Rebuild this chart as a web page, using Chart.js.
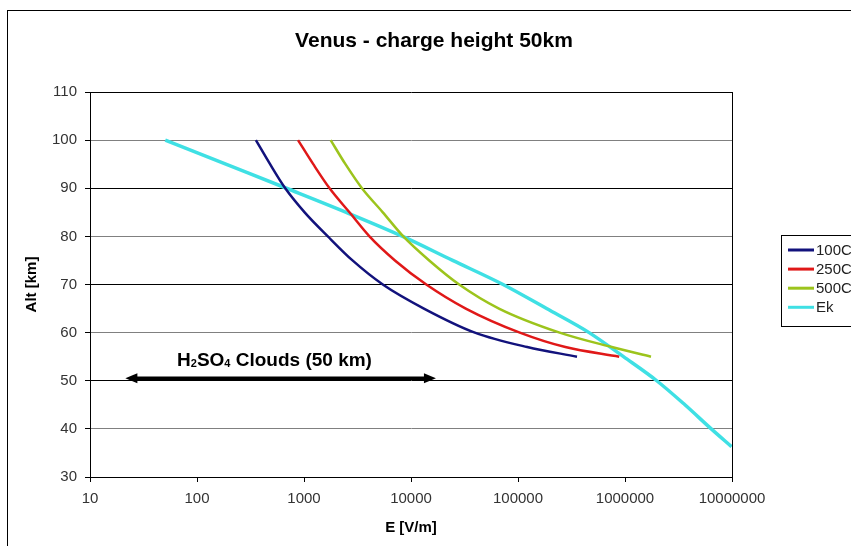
<!DOCTYPE html>
<html>
<head>
<meta charset="utf-8">
<title>Venus - charge height 50km</title>
<script src="https://cdn.jsdelivr.net/npm/chart.js@4.4.1/dist/chart.umd.min.js"></script>
<style>
html, body { margin: 0; padding: 0; background: #fff; }
#wrap { width: 851px; height: 546px; }
</style>
</head>
<body>
<div id="wrap"><canvas id="venus-chart" width="851" height="546"></canvas></div>
<script>
// values: altitude [km] and E [V/m]
var seriesNames = ['100C', '250C', '500C', 'Ek'];
var seriesColors = ['#12127c', '#e01818', '#9cc41c', '#3fe0e4'];
var seriesWidths = [2.5, 2.5, 2.5, 3.5];

var alt_100C = [100, 95, 90, 85, 80, 75, 70, 65, 60, 57, 55];
var e_100C = [355, 482, 668, 1014, 1670, 2840, 5450, 13200, 39500, 122000, 356000];

var alt_250C = [100, 95, 90, 85, 80, 75, 70, 65, 60, 57, 55];
var e_250C = [879, 1220, 1734, 2660, 4090, 7080, 13900, 32500, 104000, 277000, 883000];

var alt_500C = [100, 95, 90, 85, 80, 75, 70, 65, 60, 57, 55];
var e_500C = [1775, 2440, 3480, 5450, 8470, 14800, 28200, 66400, 245000, 753000, 1750000];

var alt_Ek = [100, 95, 90, 85, 80, 75, 70, 65, 60, 55, 50, 45, 40, 36.3];
var e_Ek = [50.5, 186, 686, 2480, 8360, 24500, 72500, 185000, 462000, 968000, 1980000, 3630000, 6400000, 9900000];

var xTicks = [10, 100, 1000, 10000, 100000, 1000000, 10000000];

// the H2SO4 cloud arrow
var cloudArrowE = [21.4, 17100];
var cloudArrowAlt = 50.5;
var cloudLabelE = 530;
var cloudLabelAlt = 54.6;

var FONT = '"Liberation Sans", Arial, Helvetica, sans-serif';

function toPoints(es, alts) {
    return es.map(function(e, i) { return { x: e, y: alts[i] }; });
}

var allE = [e_100C, e_250C, e_500C, e_Ek];
var allAlt = [alt_100C, alt_250C, alt_500C, alt_Ek];

var datasets = seriesNames.map(function(name, i) {
    return {
        label: name,
        data: toPoints(allE[i], allAlt[i]),
        borderColor: seriesColors[i],
        backgroundColor: seriesColors[i],
        borderWidth: seriesWidths[i],
        pointRadius: 0,
        showLine: true,
        fill: false,
        cubicInterpolationMode: 'monotone'
    };
});

var decorPlugin = {
    id: 'decor',
    beforeDraw: function(chart) {
        var ctx = chart.ctx;
        ctx.save();
        ctx.fillStyle = '#fff';
        ctx.fillRect(0, 0, chart.width, chart.height);
        ctx.restore();
    },
    afterDraw: function(chart) {
        var ctx = chart.ctx;
        var area = chart.chartArea;
        var xs = chart.scales.x, ys = chart.scales.y;
        ctx.save();

        // outer frame, cut off at right and bottom
        ctx.strokeStyle = '#000';
        ctx.lineWidth = 1;
        ctx.strokeRect(7.5, 10.5, 1000, 1000);

        // right side of plot area
        var rx = Math.round(area.right) + 0.5;
        ctx.beginPath();
        ctx.moveTo(rx, area.top);
        ctx.lineTo(rx, area.bottom);
        ctx.stroke();

        // title
        ctx.fillStyle = '#000';
        ctx.font = 'bold 21px ' + FONT;
        ctx.textAlign = 'center';
        ctx.textBaseline = 'alphabetic';
        ctx.fillText('Venus - charge height 50km', 434, 46.5);

        // double arrow
        var x1 = xs.getPixelForValue(cloudArrowE[0]);
        var x2 = xs.getPixelForValue(cloudArrowE[1]);
        var ay = ys.getPixelForValue(cloudArrowAlt);
        var head = 12, hw = 5;
        ctx.lineWidth = 3.5;
        ctx.beginPath();
        ctx.moveTo(x1 + head - 2, ay);
        ctx.lineTo(x2 - head + 2, ay);
        ctx.stroke();
        ctx.beginPath();
        ctx.moveTo(x1, ay);
        ctx.lineTo(x1 + head, ay - hw);
        ctx.lineTo(x1 + head, ay + hw);
        ctx.closePath();
        ctx.fill();
        ctx.beginPath();
        ctx.moveTo(x2, ay);
        ctx.lineTo(x2 - head, ay - hw);
        ctx.lineTo(x2 - head, ay + hw);
        ctx.closePath();
        ctx.fill();

        // label with subscripts
        var parts = [['H', false], ['2', true], ['SO', false], ['4', true], [' Clouds (50 km)', false]];
        var mainFont = 'bold 19px ' + FONT, subFont = 'bold 11px ' + FONT;
        var total = 0;
        parts.forEach(function(p) {
            ctx.font = p[1] ? subFont : mainFont;
            total += ctx.measureText(p[0]).width;
        });
        var lx = xs.getPixelForValue(cloudLabelE) - total / 2;
        var ly = ys.getPixelForValue(cloudLabelAlt) + 7;
        ctx.textAlign = 'left';
        parts.forEach(function(p) {
            ctx.font = p[1] ? subFont : mainFont;
            ctx.fillText(p[0], lx, ly + (p[1] ? 1 : 0));
            lx += ctx.measureText(p[0]).width;
        });

        // legend, cut off at right edge
        ctx.lineWidth = 1;
        ctx.strokeStyle = '#000';
        ctx.strokeRect(781.5, 235.5, 200, 91);
        ctx.font = '15px ' + FONT;
        ctx.textBaseline = 'middle';
        ctx.fillStyle = '#222';
        seriesNames.forEach(function(name, i) {
            var iy = 250 + i * 19.1;
            ctx.strokeStyle = seriesColors[i];
            ctx.lineWidth = 3;
            ctx.beginPath();
            ctx.moveTo(788, iy);
            ctx.lineTo(814, iy);
            ctx.stroke();
            ctx.fillText(name, 816, iy + 1);
        });

        ctx.restore();
    }
};

var ctx = document.getElementById('venus-chart').getContext('2d');
var venus_chart = new Chart(ctx, {
    type: 'scatter',
    data: { datasets: datasets },
    plugins: [decorPlugin],
    options: {
        responsive: false,
        animation: false,
        devicePixelRatio: 1,
        layout: { padding: { left: 0, top: 92, right: 119, bottom: 0 } },
        plugins: {
            legend: { display: false },
            title: { display: false },
            tooltip: { enabled: false }
        },
        scales: {
            x: {
                type: 'logarithmic',
                min: 10,
                max: 10000000,
                afterFit: function(scale) { scale.height = 69; },
                afterBuildTicks: function(scale) {
                    scale.ticks = xTicks.map(function(v) { return { value: v, major: true }; });
                },
                ticks: {
                    autoSkip: false,
                    maxRotation: 0,
                    padding: 8,
                    color: '#333',
                    font: { family: FONT, size: 15 },
                    callback: function(value) { return String(value); }
                },
                grid: {
                    drawOnChartArea: false,
                    drawTicks: true,
                    tickLength: 5,
                    color: '#000',
                    tickColor: '#000'
                },
                border: { display: true, color: '#000', width: 1 },
                title: {
                    display: true,
                    text: 'E [V/m]',
                    color: '#000',
                    font: { family: FONT, size: 15, weight: 'bold' },
                    padding: { top: 0, bottom: 9 }
                }
            },
            y: {
                min: 30,
                max: 110,
                afterFit: function(scale) { scale.width = 90; },
                ticks: {
                    stepSize: 10,
                    padding: 8,
                    color: '#333',
                    font: { family: FONT, size: 15 }
                },
                grid: {
                    tickLength: 5,
                    lineWidth: 1,
                    color: function(c) {
                        return (c.tick && c.tick.value % 20 === 0) ? '#808080' : '#000';
                    },
                    tickColor: '#000'
                },
                border: { display: true, color: '#000', width: 1 },
                title: {
                    display: true,
                    text: 'Alt [km]',
                    color: '#000',
                    font: { family: FONT, size: 15, weight: 'bold' },
                    padding: { top: 23, bottom: 0 }
                }
            }
        }
    }
});
</script>
</body>
</html>
